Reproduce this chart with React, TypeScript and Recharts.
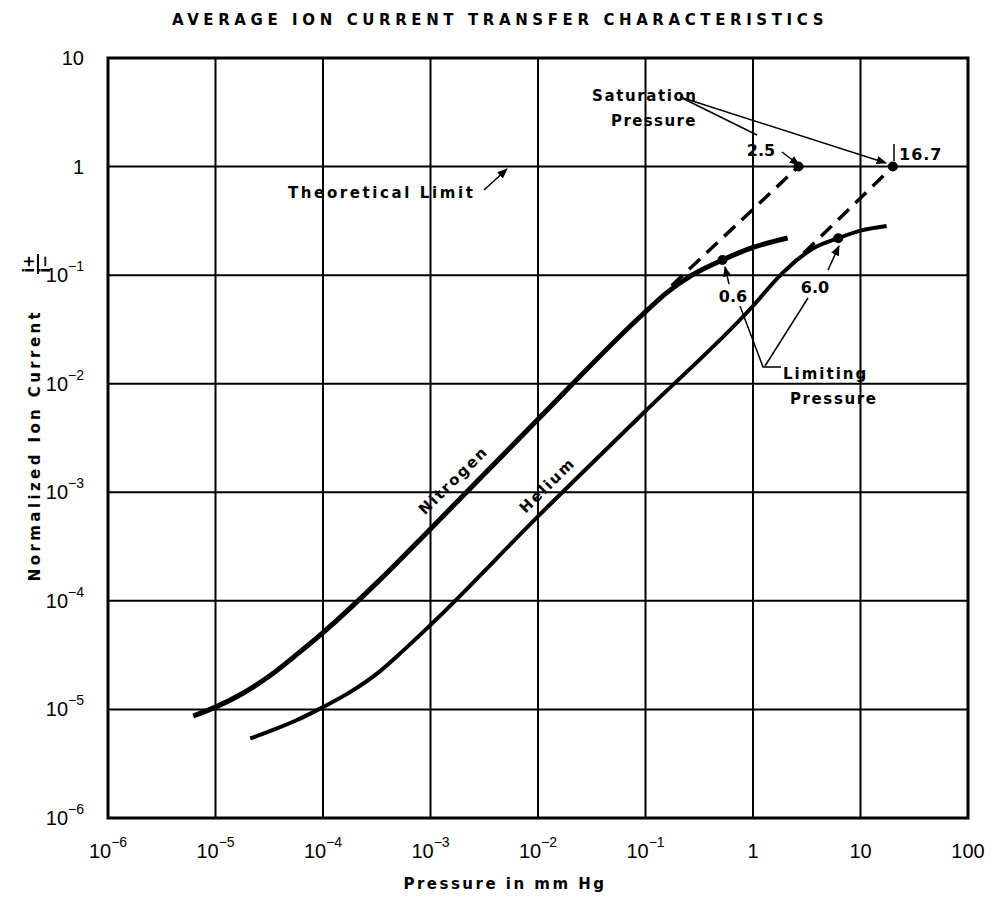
import React from "react";
import {
  ComposedChart,
  Line,
  Scatter,
  XAxis,
  YAxis,
  CartesianGrid,
  ReferenceArea,
} from "recharts";

// tick values and their printed labels
const xTicks = [1e-6, 1e-5, 1e-4, 1e-3, 1e-2, 1e-1, 1, 10, 100];
const xTickBase = ["10", "10", "10", "10", "10", "10", "1", "10", "100"];
const xTickExp = ["−6", "−5", "−4", "−3", "−2", "−1", "", "", ""];
const yTicks = [1e-6, 1e-5, 1e-4, 1e-3, 1e-2, 1e-1, 1, 10];
const yTickBase = ["10", "10", "10", "10", "10", "10", "1", "10"];
const yTickExp = ["−6", "−5", "−4", "−3", "−2", "−1", "", ""];

// Nitrogen curve, pressure (mm Hg) / normalized ion current
const nitrogenP = [6.2e-6, 1e-5, 1.8e-5, 3.2e-5, 5.6e-5, 1e-4, 3.2e-4, 1e-3, 1e-2, 0.1, 0.158, 0.27, 0.52, 1, 2.1];
const nitrogenI = [8.7e-6, 1.05e-5, 1.41e-5, 2.04e-5, 3.16e-5, 5.1e-5, 1.48e-4, 4.6e-4, 4.7e-3, 0.046, 0.069, 0.1, 0.138, 0.18, 0.22];

// Helium curve
const heliumP = [2.1e-5, 3.2e-5, 5.6e-5, 1e-4, 1.8e-4, 3.2e-4, 5.6e-4, 1e-3, 1e-2, 0.1, 1, 1.8, 2.5, 3.55, 6.2, 10, 17.5];
const heliumI = [5.4e-6, 6.3e-6, 7.9e-6, 1.05e-5, 1.45e-5, 2.15e-5, 3.5e-5, 6e-5, 6e-4, 5.6e-3, 0.052, 0.1, 0.135, 0.174, 0.219, 0.257, 0.284];

// dashed extrapolations to saturation
const nitrogenSatP = [0.175, 2.65];
const nitrogenSatI = [0.08, 1];
const heliumSatP = [2.05, 20];
const heliumSatI = [0.112, 1];

// limiting and saturation pressure points
const pointP = [0.52, 6.2, 2.65, 20];
const pointI = [0.138, 0.219, 1, 1];

const zip = (xs: number[], ys: number[]) => xs.map((x, i) => ({ x, y: ys[i] }));

const nitrogen = zip(nitrogenP, nitrogenI);
const helium = zip(heliumP, heliumI);
const nitrogenSat = zip(nitrogenSatP, nitrogenSatI);
const heliumSat = zip(heliumSatP, heliumSatI);
const points = zip(pointP, pointI);

const FONT = "'DejaVu Sans', sans-serif";
const TICKFONT = "'Liberation Sans', Arial, sans-serif";

const XTick = ({ x, y, index }: any) => (
  <text x={x} y={y + 32} textAnchor="middle" fontFamily={TICKFONT} fontSize={20} fill="#000">
    {xTickBase[index]}
    {xTickExp[index] && (
      <tspan dy={-11} fontSize={14}>
        {xTickExp[index]}
      </tspan>
    )}
  </text>
);

const YTick = ({ x, y, index }: any) => (
  <text x={x - 16} y={y + 7} textAnchor="end" fontFamily={TICKFONT} fontSize={20} fill="#000">
    {yTickBase[index]}
    {yTickExp[index] && (
      <tspan dy={-11} fontSize={14}>
        {yTickExp[index]}
      </tspan>
    )}
  </text>
);

const lbl = { fontFamily: FONT, fontSize: 15, fontWeight: "bold", fill: "#000", letterSpacing: 2 } as const;
const num = { fontFamily: FONT, fontSize: 16, fontWeight: "bold", fill: "#000" } as const;

// text and leader lines drawn over the plot
const Notes = () => (
  <svg
    width={994}
    height={898}
    style={{ position: "absolute", left: 0, top: 0, pointerEvents: "none" }}
  >
    <defs>
      <marker id="ah" viewBox="0 0 10 10" refX="9" refY="5" markerWidth="7" markerHeight="7" orient="auto">
        <path d="M0,1 L10,5 L0,9 z" fill="#000" />
      </marker>
    </defs>
    <text x={500} y={25} textAnchor="middle" fontFamily={FONT} fontSize={15} fontWeight="bold" letterSpacing={4.6} fill="#000">
      AVERAGE ION CURRENT TRANSFER CHARACTERISTICS
    </text>
    <text x={505} y={889} textAnchor="middle" {...lbl} letterSpacing={2.5}>
      Pressure in mm Hg
    </text>
    <text transform="translate(40,445) rotate(-90)" textAnchor="middle" {...lbl} letterSpacing={3.4}>
      Normalized Ion Current
    </text>
    <g transform="translate(38,264) rotate(-90)" fontFamily={FONT} fontSize={15} fontWeight="bold" fill="#000">
      <text x={0} y={-4} textAnchor="middle">i+</text>
      <line x1={-10} x2={10} y1={0} y2={0} stroke="#000" strokeWidth={2} />
      <text x={0} y={12} textAnchor="middle">i−</text>
    </g>

    <text x={288} y={198} {...lbl} letterSpacing={2.6}>Theoretical Limit</text>
    <line x1={484} y1={190} x2={507} y2={169} stroke="#000" strokeWidth={1.5} markerEnd="url(#ah)" />

    <text x={592} y={101} {...lbl} letterSpacing={1.6}>Saturation</text>
    <text x={611} y={126} {...lbl} letterSpacing={1.4}>Pressure</text>
    <line x1={680} y1={97} x2={757} y2={135} stroke="#000" strokeWidth={1.5} />
    <line x1={680} y1={97} x2={886} y2={163} stroke="#000" strokeWidth={1.5} markerEnd="url(#ah)" />
    <text x={761} y={156} textAnchor="middle" {...num}>2.5</text>
    <line x1={782} y1={152} x2={799} y2={165} stroke="#000" strokeWidth={1.5} markerEnd="url(#ah)" />
    <line x1={894} y1={144} x2={894} y2={161} stroke="#000" strokeWidth={1.5} />
    <text x={899} y={160} {...num} letterSpacing={1}>16.7</text>

    <text x={733} y={302} textAnchor="middle" {...num}>0.6</text>
    <line x1={729} y1={284} x2={725} y2={267} stroke="#000" strokeWidth={1.5} markerEnd="url(#ah)" />
    <text x={815} y={293} textAnchor="middle" {...num}>6.0</text>
    <line x1={828} y1={270} x2={839} y2={246} stroke="#000" strokeWidth={1.5} markerEnd="url(#ah)" />

    <polyline points="740,306 763,367 781,367" fill="none" stroke="#000" strokeWidth={1.5} />
    <line x1={808} y1={298} x2={765} y2={366} stroke="#000" strokeWidth={1.5} />
    <text x={783} y={379} {...lbl}>Limiting</text>
    <text x={790} y={404} {...lbl} letterSpacing={1.6}>Pressure</text>

    <text transform="translate(457,484) rotate(-44.5)" textAnchor="middle" {...lbl}>
      Nitrogen
    </text>
    <text transform="translate(551,489) rotate(-44.5)" textAnchor="middle" {...lbl}>
      Helium
    </text>
  </svg>
);

export default function App() {
  return (
    <div style={{ position: "absolute", left: 0, top: 0, width: 994, height: 898, background: "#fff" }}>
      <ComposedChart
        width={994}
        height={898}
        margin={{ top: 58, right: 26, bottom: 0, left: 48 }}
      >
        <CartesianGrid stroke="#000" strokeWidth={2} />
        <XAxis
          type="number"
          dataKey="x"
          scale="log"
          domain={[1e-6, 100]}
          ticks={xTicks}
          allowDataOverflow
          height={80}
          axisLine={false}
          tickLine={false}
          tick={<XTick />}
          interval={0}
        />
        <YAxis
          type="number"
          dataKey="y"
          scale="log"
          domain={[1e-6, 10]}
          ticks={yTicks}
          allowDataOverflow
          width={60}
          axisLine={false}
          tickLine={false}
          tick={<YTick />}
          interval={0}
        />
        <ReferenceArea x1={1e-6} x2={100} y1={1e-6} y2={10} fill="none" stroke="#000" strokeWidth={3} />
        <Line data={nitrogen} dataKey="y" type="monotone" stroke="#000" strokeWidth={5} dot={false} isAnimationActive={false} />
        <Line data={helium} dataKey="y" type="monotone" stroke="#000" strokeWidth={4} dot={false} isAnimationActive={false} />
        <Line data={nitrogenSat} dataKey="y" type="linear" stroke="#000" strokeWidth={3.5} strokeDasharray="15 9" dot={false} isAnimationActive={false} />
        <Line data={heliumSat} dataKey="y" type="linear" stroke="#000" strokeWidth={3.5} strokeDasharray="15 9" dot={false} isAnimationActive={false} />
        <Scatter
          data={points}
          dataKey="y"
          fill="#000"
          isAnimationActive={false}
          shape={(p: any) => <circle cx={p.cx} cy={p.cy} r={5} fill="#000" />}
        />
      </ComposedChart>
      <Notes />
    </div>
  );
}
